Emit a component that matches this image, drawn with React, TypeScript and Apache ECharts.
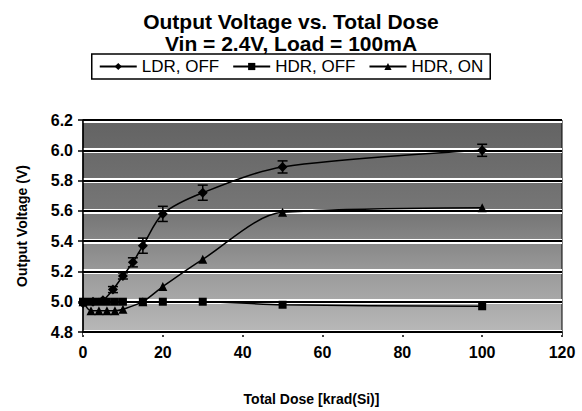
import React, { useEffect, useRef } from "react";
import * as echarts from "echarts";

const titleText = "Output Voltage vs. Total Dose\nVin = 2.4V, Load = 100mA";
const xTicks = [0, 20, 40, 60, 80, 100, 120];
const yTicks = [4.8, 5.0, 5.2, 5.4, 5.6, 5.8, 6.0, 6.2];

const ldrDose = [0, 2.5, 5, 7.5, 10, 12.5, 15, 20, 30, 50, 100];
const ldrVolt = [4.99, 5.0, 5.01, 5.08, 5.17, 5.26, 5.37, 5.58, 5.72, 5.89, 6.0];
const ldrErr = [0, 0, 0.01, 0.02, 0.02, 0.03, 0.05, 0.05, 0.05, 0.04, 0.04];

const hdrDose = [0, 2, 4, 6, 8, 10, 15, 20, 30, 50, 100];
const hdrOffVolt = [5.0, 5.0, 5.0, 5.0, 5.0, 5.0, 5.0, 5.0, 5.0, 4.98, 4.97];
const hdrOnVolt = [5.0, 4.94, 4.94, 4.94, 4.94, 4.95, 5.0, 5.1, 5.28, 5.59, 5.62];

const FONT = "'Liberation Sans', Arial, sans-serif";

export default function App() {
  const ref = useRef<HTMLDivElement>(null);
  useEffect(() => {
    if (!ref.current) return;
    const chart = echarts.init(ref.current, undefined, { renderer: "svg" });
    const pairs = (xs: number[], ys: number[]) => xs.map((x, i) => [x, ys[i]]);
    const errData = ldrDose.map((x, i) => [x, ldrVolt[i], ldrErr[i]]);
    const axisLabel = { fontFamily: FONT, fontWeight: "bold", fontSize: 16, color: "#000" };
    chart.setOption({
      animation: false,
      backgroundColor: "#fff",
      title: {
        text: titleText,
        left: "center",
        top: 5,
        textStyle: { fontFamily: FONT, fontWeight: "bold", fontSize: 21, lineHeight: 22, color: "#000" },
      },
      legend: {
        data: ["LDR, OFF", "HDR, OFF", "HDR, ON"],
        left: "center",
        top: 54,
        borderColor: "#000",
        borderWidth: 1.5,
        padding: [4, 7],
        itemGap: 13,
        itemWidth: 37,
        itemHeight: 9,
        textStyle: { fontFamily: FONT, fontSize: 17, color: "#000" },
      },
      grid: {
        left: 83,
        right: 20,
        top: 120,
        bottom: 78,
        show: true,
        borderColor: "#000",
        borderWidth: 1,
        backgroundColor: new echarts.graphic.LinearGradient(0, 0, 0, 1, [
          { offset: 0, color: "#636363" },
          { offset: 0.45, color: "#777777" },
          { offset: 0.75, color: "#9e9e9e" },
          { offset: 1, color: "#b8b8b8" },
        ]),
      },
      xAxis: {
        type: "value",
        min: xTicks[0],
        max: xTicks[xTicks.length - 1],
        interval: 20,
        name: "Total Dose [krad(Si)]",
        nameLocation: "middle",
        nameGap: 60,
        nameTextStyle: { fontFamily: FONT, fontWeight: "bold", fontSize: 14, color: "#000", padding: [0, 22, 0, 0] },
        axisLine: { lineStyle: { color: "#000", width: 1.5 } },
        axisTick: { inside: false, length: 5, lineStyle: { color: "#000", width: 1.5 } },
        axisLabel: { ...axisLabel, margin: 12 },
        splitLine: { show: false },
      },
      yAxis: [
        {
          type: "value",
          min: yTicks[0],
          max: yTicks[yTicks.length - 1],
          interval: 0.2,
          position: "left",
          z: 3,
          name: "Output Voltage (V)",
          nameLocation: "middle",
          nameGap: 54,
          nameTextStyle: { fontFamily: FONT, fontWeight: "bold", fontSize: 14, color: "#000" },
          axisLine: { show: true, lineStyle: { color: "#000", width: 1.5 } },
          axisTick: { show: true, inside: false, length: 5, lineStyle: { color: "#000", width: 1.5 } },
          axisLabel: { ...axisLabel, margin: 10, formatter: (v: number) => v.toFixed(1) },
          splitLine: { show: true, lineStyle: { color: "#000", width: 2 } },
        },
        {
          type: "value",
          min: yTicks[0],
          max: yTicks[yTicks.length - 1],
          interval: 0.2,
          position: "left",
          z: 1,
          axisLine: { show: false },
          axisTick: { show: false },
          axisLabel: { show: false },
          splitLine: { show: true, lineStyle: { color: "#fff", width: 5 } },
        },
      ],
      series: [
        {
          name: "LDR, OFF",
          type: "line",
          data: pairs(ldrDose, ldrVolt),
          smooth: 0.3,
          symbol: "diamond",
          symbolSize: 10,
          z: 5,
          itemStyle: { color: "#000" },
          lineStyle: { color: "#000", width: 1.5 },
        },
        {
          name: "HDR, OFF",
          type: "line",
          data: pairs(hdrDose, hdrOffVolt),
          smooth: 0.3,
          symbol: "rect",
          symbolSize: 8,
          z: 5,
          itemStyle: { color: "#000" },
          lineStyle: { color: "#000", width: 1.5 },
        },
        {
          name: "HDR, ON",
          type: "line",
          data: pairs(hdrDose, hdrOnVolt),
          smooth: 0.3,
          symbol: "triangle",
          symbolSize: 9,
          z: 5,
          itemStyle: { color: "#000" },
          lineStyle: { color: "#000", width: 1.5 },
        },
        {
          name: "LDR error",
          type: "custom",
          data: errData,
          z: 6,
          renderItem: (params: any, api: any) => {
            const x = api.value(0);
            const y = api.value(1);
            const e = api.value(2);
            if (!e) return null;
            const top = api.coord([x, y + e]);
            const bot = api.coord([x, y - e]);
            const style = { stroke: "#000", lineWidth: 1.5 };
            return {
              type: "group",
              children: [
                { type: "line", shape: { x1: top[0], y1: top[1], x2: bot[0], y2: bot[1] }, style },
                { type: "line", shape: { x1: top[0] - 5, y1: top[1], x2: top[0] + 5, y2: top[1] }, style },
                { type: "line", shape: { x1: bot[0] - 5, y1: bot[1], x2: bot[0] + 5, y2: bot[1] }, style },
              ],
            };
          },
        },
      ],
    });
    return () => chart.dispose();
  }, []);
  return <div ref={ref} style={{ position: "absolute", left: 0, top: 0, width: 582, height: 411 }} />;
}
